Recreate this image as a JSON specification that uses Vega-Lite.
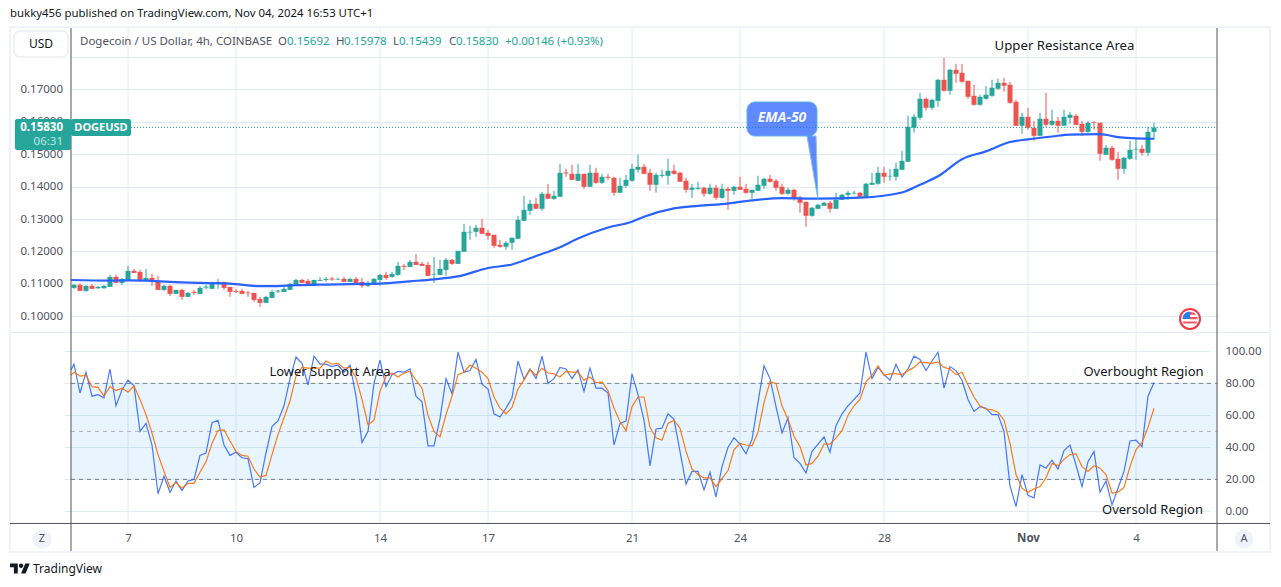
{"$schema":"https://vega.github.io/schema/vega-lite/v6.json","width":1281,"height":587,"autosize":{"type":"none"},"padding":0,"background":"#ffffff","config":{"view":{"stroke":null},"font":"Noto Sans","text":{"font":"Noto Sans"}},
"datasets":{
"bars":[
{"t":"2024-10-05T10:00Z","k":88.5,"d":85},
{"t":"2024-10-05T12:00Z","o":0.10877,"h":0.11,"l":0.10846,"c":0.10969,"k":92,"d":87},
{"t":"2024-10-05T16:00Z","o":0.10969,"h":0.1102,"l":0.10784,"c":0.10784,"k":74,"d":84.5},
{"t":"2024-10-05T20:00Z","o":0.10784,"h":0.1096,"l":0.10753,"c":0.10938,"k":87,"d":85},
{"t":"2024-10-06T00:00Z","o":0.10938,"h":0.11,"l":0.10846,"c":0.10846,"k":72,"d":78},
{"t":"2024-10-06T04:00Z","o":0.10866,"h":0.10938,"l":0.10846,"c":0.10907,"k":73,"d":77.5},
{"t":"2024-10-06T08:00Z","o":0.10864,"h":0.10969,"l":0.10852,"c":0.10938,"k":71,"d":72},
{"t":"2024-10-06T12:00Z","o":0.10907,"h":0.11278,"l":0.10907,"c":0.11216,"k":89,"d":78},
{"t":"2024-10-06T16:00Z","o":0.11216,"h":0.11278,"l":0.11031,"c":0.11031,"k":66,"d":75.5},
{"t":"2024-10-06T20:00Z","o":0.11031,"h":0.11185,"l":0.10969,"c":0.11154,"k":76,"d":77},
{"t":"2024-10-07T00:00Z","o":0.11123,"h":0.11556,"l":0.11093,"c":0.11401,"k":82,"d":74.5},
{"t":"2024-10-07T04:00Z","o":0.11401,"h":0.11463,"l":0.1134,"c":0.1134,"k":78.5,"d":78.5},
{"t":"2024-10-07T08:00Z","o":0.1137,"h":0.11432,"l":0.11062,"c":0.11123,"k":50,"d":70},
{"t":"2024-10-07T12:00Z","o":0.11093,"h":0.11463,"l":0.11093,"c":0.11185,"k":55,"d":60.5},
{"t":"2024-10-07T16:00Z","o":0.11185,"h":0.11309,"l":0.10938,"c":0.11062,"k":41.5,"d":49},
{"t":"2024-10-07T20:00Z","o":0.11093,"h":0.11247,"l":0.10815,"c":0.10815,"k":11,"d":35.5},
{"t":"2024-10-08T00:00Z","o":0.10815,"h":0.10969,"l":0.10784,"c":0.10938,"k":22,"d":25},
{"t":"2024-10-08T04:00Z","o":0.10938,"h":0.10969,"l":0.1063,"c":0.10691,"k":12,"d":15},
{"t":"2024-10-08T08:00Z","o":0.10691,"h":0.10815,"l":0.10691,"c":0.10815,"k":19,"d":18},
{"t":"2024-10-08T12:00Z","o":0.10815,"h":0.10846,"l":0.10506,"c":0.10599,"k":13,"d":14.5},
{"t":"2024-10-08T16:00Z","o":0.10599,"h":0.10753,"l":0.10599,"c":0.10722,"k":19,"d":17.5},
{"t":"2024-10-08T20:00Z","o":0.10753,"h":0.10815,"l":0.1066,"c":0.10722,"k":20,"d":17.5},
{"t":"2024-10-09T00:00Z","o":0.10691,"h":0.10938,"l":0.10691,"c":0.10877,"k":35,"d":24.5},
{"t":"2024-10-09T04:00Z","o":0.10886,"h":0.10969,"l":0.10846,"c":0.10917,"k":36.5,"d":31},
{"t":"2024-10-09T08:00Z","o":0.10846,"h":0.11062,"l":0.10846,"c":0.11031,"k":55.5,"d":42.5},
{"t":"2024-10-09T12:00Z","o":0.1102,"h":0.11154,"l":0.10846,"c":0.11062,"k":57,"d":50.5},
{"t":"2024-10-09T16:00Z","o":0.11062,"h":0.11062,"l":0.10815,"c":0.10877,"k":41.5,"d":51},
{"t":"2024-10-09T20:00Z","o":0.10907,"h":0.10907,"l":0.10599,"c":0.10753,"k":35,"d":44},
{"t":"2024-10-10T00:00Z","o":0.10784,"h":0.10846,"l":0.10722,"c":0.10753,"k":37,"d":37.5},
{"t":"2024-10-10T04:00Z","o":0.10784,"h":0.10846,"l":0.10691,"c":0.10691,"k":33.5,"d":35},
{"t":"2024-10-10T08:00Z","o":0.10733,"h":0.10784,"l":0.10599,"c":0.10712,"k":33,"d":34.5},
{"t":"2024-10-10T12:00Z","o":0.10722,"h":0.10722,"l":0.10444,"c":0.10506,"k":15,"d":26.5},
{"t":"2024-10-10T16:00Z","o":0.10537,"h":0.10599,"l":0.1029,"c":0.10414,"k":18,"d":21.5},
{"t":"2024-10-10T20:00Z","o":0.10414,"h":0.1063,"l":0.10414,"c":0.10599,"k":36.5,"d":22.5},
{"t":"2024-10-11T00:00Z","o":0.10568,"h":0.10815,"l":0.10568,"c":0.10753,"k":53,"d":35.5},
{"t":"2024-10-11T04:00Z","o":0.10763,"h":0.10815,"l":0.10722,"c":0.10794,"k":56.5,"d":48},
{"t":"2024-10-11T08:00Z","o":0.10753,"h":0.10907,"l":0.10753,"c":0.10846,"k":66,"d":58.5},
{"t":"2024-10-11T12:00Z","o":0.10815,"h":0.11031,"l":0.10815,"c":0.11,"k":83,"d":69},
{"t":"2024-10-11T16:00Z","o":0.10969,"h":0.11154,"l":0.10969,"c":0.11123,"k":96.5,"d":84.5},
{"t":"2024-10-11T20:00Z","o":0.11123,"h":0.11154,"l":0.11031,"c":0.11031,"k":92.5,"d":90},
{"t":"2024-10-12T00:00Z","o":0.11093,"h":0.11154,"l":0.10938,"c":0.10938,"k":79,"d":89.5},
{"t":"2024-10-12T04:00Z","o":0.10938,"h":0.11123,"l":0.10938,"c":0.11123,"k":97,"d":89.5},
{"t":"2024-10-12T08:00Z","o":0.11093,"h":0.11216,"l":0.11093,"c":0.11123,"k":92,"d":89.5},
{"t":"2024-10-12T12:00Z","o":0.11123,"h":0.11216,"l":0.11062,"c":0.11154,"k":92,"d":94},
{"t":"2024-10-12T16:00Z","o":0.11165,"h":0.11216,"l":0.11093,"c":0.11134,"k":90.5,"d":92},
{"t":"2024-10-12T20:00Z","o":0.11134,"h":0.11185,"l":0.11123,"c":0.11154,"k":91.5,"d":92.5},
{"t":"2024-10-13T00:00Z","o":0.11154,"h":0.11216,"l":0.11062,"c":0.11062,"k":87,"d":89.5},
{"t":"2024-10-13T04:00Z","o":0.11062,"h":0.11185,"l":0.11062,"c":0.11154,"k":91.5,"d":90},
{"t":"2024-10-13T08:00Z","o":0.11154,"h":0.11216,"l":0.11031,"c":0.11031,"k":72,"d":83.5},
{"t":"2024-10-13T12:00Z","o":0.11062,"h":0.11185,"l":0.10877,"c":0.10938,"k":43,"d":70},
{"t":"2024-10-13T16:00Z","o":0.10938,"h":0.11093,"l":0.10907,"c":0.10969,"k":50,"d":54},
{"t":"2024-10-13T20:00Z","o":0.10969,"h":0.11185,"l":0.10969,"c":0.11154,"k":80,"d":57},
{"t":"2024-10-14T00:00Z","o":0.11123,"h":0.11309,"l":0.10938,"c":0.11278,"k":94.5,"d":75},
{"t":"2024-10-14T04:00Z","o":0.11278,"h":0.1137,"l":0.11123,"c":0.11185,"k":78,"d":84.5},
{"t":"2024-10-14T08:00Z","o":0.11216,"h":0.1137,"l":0.11185,"c":0.11309,"k":85.5,"d":86.5},
{"t":"2024-10-14T12:00Z","o":0.11278,"h":0.11679,"l":0.11247,"c":0.11556,"k":87.5,"d":84},
{"t":"2024-10-14T16:00Z","o":0.11556,"h":0.11617,"l":0.11432,"c":0.11525,"k":87,"d":86.5},
{"t":"2024-10-14T20:00Z","o":0.11525,"h":0.11741,"l":0.11525,"c":0.11679,"k":89,"d":87.5},
{"t":"2024-10-15T00:00Z","o":0.11679,"h":0.11926,"l":0.11586,"c":0.11586,"k":72,"d":82},
{"t":"2024-10-15T04:00Z","o":0.11617,"h":0.11679,"l":0.11556,"c":0.11556,"k":68.5,"d":77},
{"t":"2024-10-15T08:00Z","o":0.11586,"h":0.11679,"l":0.11247,"c":0.11247,"k":41,"d":60},
{"t":"2024-10-15T12:00Z","o":0.11288,"h":0.11833,"l":0.11031,"c":0.11309,"k":41,"d":50},
{"t":"2024-10-15T16:00Z","o":0.11278,"h":0.11741,"l":0.11278,"c":0.11463,"k":58,"d":46.5},
{"t":"2024-10-15T20:00Z","o":0.11432,"h":0.11802,"l":0.11247,"c":0.11741,"k":83,"d":60.5},
{"t":"2024-10-16T00:00Z","o":0.11741,"h":0.11772,"l":0.11586,"c":0.11617,"k":73.5,"d":72},
{"t":"2024-10-16T04:00Z","o":0.11617,"h":0.12019,"l":0.11617,"c":0.12019,"k":99.5,"d":85.5},
{"t":"2024-10-16T08:00Z","o":0.11991,"h":0.12855,"l":0.11991,"c":0.12608,"k":87,"d":87},
{"t":"2024-10-16T12:00Z","o":0.12587,"h":0.12793,"l":0.12361,"c":0.12608,"k":88,"d":91.5},
{"t":"2024-10-16T16:00Z","o":0.12608,"h":0.12824,"l":0.12454,"c":0.12731,"k":95,"d":89.5},
{"t":"2024-10-16T20:00Z","o":0.12731,"h":0.13009,"l":0.12546,"c":0.12546,"k":79.5,"d":87},
{"t":"2024-10-17T00:00Z","o":0.12577,"h":0.1267,"l":0.12361,"c":0.12485,"k":76.5,"d":83},
{"t":"2024-10-17T04:00Z","o":0.12515,"h":0.12515,"l":0.12114,"c":0.12176,"k":61,"d":71.5},
{"t":"2024-10-17T08:00Z","o":0.12207,"h":0.12361,"l":0.12114,"c":0.12145,"k":59,"d":64.5},
{"t":"2024-10-17T12:00Z","o":0.12145,"h":0.1233,"l":0.12052,"c":0.12268,"k":64.5,"d":61},
{"t":"2024-10-17T16:00Z","o":0.12268,"h":0.12423,"l":0.12052,"c":0.12423,"k":71,"d":65},
{"t":"2024-10-17T20:00Z","o":0.12392,"h":0.13102,"l":0.12392,"c":0.12978,"k":94,"d":76.5},
{"t":"2024-10-18T00:00Z","o":0.12947,"h":0.13719,"l":0.12947,"c":0.13287,"k":82.5,"d":82},
{"t":"2024-10-18T04:00Z","o":0.13256,"h":0.13596,"l":0.13133,"c":0.13472,"k":89,"d":88.5},
{"t":"2024-10-18T08:00Z","o":0.13472,"h":0.13657,"l":0.13318,"c":0.13318,"k":83,"d":85},
{"t":"2024-10-18T12:00Z","o":0.13318,"h":0.13843,"l":0.13256,"c":0.13781,"k":97,"d":89.5},
{"t":"2024-10-18T16:00Z","o":0.13781,"h":0.14089,"l":0.13626,"c":0.13626,"k":80,"d":86.5},
{"t":"2024-10-18T20:00Z","o":0.13626,"h":0.13873,"l":0.13596,"c":0.13719,"k":83,"d":86},
{"t":"2024-10-19T00:00Z","o":0.13688,"h":0.14707,"l":0.13688,"c":0.14429,"k":90,"d":84},
{"t":"2024-10-19T04:00Z","o":0.14439,"h":0.14552,"l":0.14305,"c":0.14408,"k":89,"d":87.5},
{"t":"2024-10-19T08:00Z","o":0.14398,"h":0.14676,"l":0.14213,"c":0.14213,"k":83,"d":87},
{"t":"2024-10-19T12:00Z","o":0.14182,"h":0.14707,"l":0.14182,"c":0.14398,"k":88.5,"d":87},
{"t":"2024-10-19T16:00Z","o":0.14398,"h":0.14398,"l":0.13935,"c":0.13997,"k":75,"d":82},
{"t":"2024-10-19T20:00Z","o":0.13997,"h":0.14676,"l":0.13997,"c":0.14429,"k":89.5,"d":84},
{"t":"2024-10-20T00:00Z","o":0.14429,"h":0.14583,"l":0.14089,"c":0.1412,"k":77,"d":80.5},
{"t":"2024-10-20T04:00Z","o":0.1412,"h":0.14398,"l":0.14089,"c":0.14305,"k":77,"d":81},
{"t":"2024-10-20T08:00Z","o":0.14305,"h":0.14398,"l":0.14213,"c":0.14275,"k":74,"d":75.5},
{"t":"2024-10-20T12:00Z","o":0.14275,"h":0.14305,"l":0.13719,"c":0.13812,"k":41.5,"d":64.5},
{"t":"2024-10-20T16:00Z","o":0.13812,"h":0.14275,"l":0.13812,"c":0.14028,"k":55,"d":56},
{"t":"2024-10-20T20:00Z","o":0.14028,"h":0.14367,"l":0.13966,"c":0.14213,"k":56.5,"d":50.5},
{"t":"2024-10-21T00:00Z","o":0.14182,"h":0.14707,"l":0.14151,"c":0.14552,"k":86,"d":65.5},
{"t":"2024-10-21T04:00Z","o":0.14522,"h":0.14985,"l":0.14429,"c":0.14614,"k":73,"d":71.5},
{"t":"2024-10-21T08:00Z","o":0.14614,"h":0.14707,"l":0.14398,"c":0.14398,"k":57,"d":71.5},
{"t":"2024-10-21T12:00Z","o":0.14429,"h":0.14552,"l":0.13873,"c":0.14059,"k":28.5,"d":52.5},
{"t":"2024-10-21T16:00Z","o":0.14059,"h":0.14429,"l":0.13812,"c":0.14367,"k":51.5,"d":46},
{"t":"2024-10-21T20:00Z","o":0.14336,"h":0.14522,"l":0.14275,"c":0.14367,"k":52,"d":44.5},
{"t":"2024-10-22T00:00Z","o":0.14336,"h":0.14861,"l":0.14059,"c":0.14491,"k":61,"d":55},
{"t":"2024-10-22T04:00Z","o":0.14491,"h":0.14676,"l":0.14367,"c":0.14398,"k":57.5,"d":57},
{"t":"2024-10-22T08:00Z","o":0.14429,"h":0.1446,"l":0.14151,"c":0.14151,"k":37.5,"d":52},
{"t":"2024-10-22T12:00Z","o":0.14182,"h":0.14275,"l":0.13812,"c":0.13904,"k":17,"d":37.5},
{"t":"2024-10-22T16:00Z","o":0.13904,"h":0.14089,"l":0.13657,"c":0.13966,"k":25,"d":26.5},
{"t":"2024-10-22T20:00Z","o":0.13935,"h":0.14151,"l":0.13904,"c":0.13966,"k":25,"d":23},
{"t":"2024-10-23T00:00Z","o":0.13966,"h":0.13997,"l":0.13688,"c":0.13781,"k":13.5,"d":21},
{"t":"2024-10-23T04:00Z","o":0.13781,"h":0.14089,"l":0.1375,"c":0.13966,"k":24.5,"d":21},
{"t":"2024-10-23T08:00Z","o":0.13966,"h":0.14059,"l":0.13596,"c":0.13657,"k":9,"d":15.5},
{"t":"2024-10-23T12:00Z","o":0.13657,"h":0.14089,"l":0.13626,"c":0.13935,"k":28,"d":20.5},
{"t":"2024-10-23T16:00Z","o":0.13935,"h":0.13997,"l":0.13287,"c":0.13873,"k":40,"d":25.5},
{"t":"2024-10-23T20:00Z","o":0.13873,"h":0.14028,"l":0.1375,"c":0.13997,"k":46,"d":38.5},
{"t":"2024-10-24T00:00Z","o":0.13997,"h":0.14305,"l":0.13904,"c":0.13904,"k":42,"d":42.5},
{"t":"2024-10-24T04:00Z","o":0.13935,"h":0.14089,"l":0.13781,"c":0.13812,"k":36,"d":41.5},
{"t":"2024-10-24T08:00Z","o":0.13812,"h":0.13904,"l":0.13626,"c":0.13904,"k":45,"d":41},
{"t":"2024-10-24T12:00Z","o":0.13873,"h":0.14336,"l":0.13873,"c":0.14059,"k":68,"d":49.5},
{"t":"2024-10-24T16:00Z","o":0.14028,"h":0.14275,"l":0.13935,"c":0.14244,"k":91,"d":68},
{"t":"2024-10-24T20:00Z","o":0.14244,"h":0.14367,"l":0.1412,"c":0.14151,"k":83,"d":81},
{"t":"2024-10-25T00:00Z","o":0.14182,"h":0.14244,"l":0.13873,"c":0.13966,"k":65.5,"d":80},
{"t":"2024-10-25T04:00Z","o":0.13997,"h":0.14089,"l":0.1375,"c":0.13781,"k":49,"d":66},
{"t":"2024-10-25T08:00Z","o":0.13781,"h":0.13966,"l":0.1375,"c":0.13904,"k":58.5,"d":57.5},
{"t":"2024-10-25T12:00Z","o":0.13904,"h":0.13935,"l":0.13565,"c":0.13626,"k":33.5,"d":47},
{"t":"2024-10-25T16:00Z","o":0.13657,"h":0.13719,"l":0.13195,"c":0.13503,"k":30,"d":40.5},
{"t":"2024-10-25T20:00Z","o":0.13534,"h":0.13534,"l":0.12762,"c":0.13102,"k":24,"d":29},
{"t":"2024-10-26T00:00Z","o":0.13102,"h":0.1338,"l":0.13071,"c":0.13349,"k":37.5,"d":30},
{"t":"2024-10-26T04:00Z","o":0.13318,"h":0.13472,"l":0.13318,"c":0.13441,"k":42,"d":34.5},
{"t":"2024-10-26T08:00Z","o":0.1341,"h":0.13534,"l":0.1341,"c":0.13503,"k":46.5,"d":42},
{"t":"2024-10-26T12:00Z","o":0.13503,"h":0.13565,"l":0.13195,"c":0.13318,"k":37,"d":42},
{"t":"2024-10-26T16:00Z","o":0.13318,"h":0.13812,"l":0.13318,"c":0.13596,"k":53.5,"d":46},
{"t":"2024-10-26T20:00Z","o":0.13596,"h":0.13781,"l":0.13596,"c":0.1375,"k":61,"d":50.5},
{"t":"2024-10-27T00:00Z","o":0.1375,"h":0.13873,"l":0.13596,"c":0.13812,"k":66,"d":60},
{"t":"2024-10-27T04:00Z","o":0.13791,"h":0.13873,"l":0.1375,"c":0.13812,"k":70,"d":66},
{"t":"2024-10-27T08:00Z","o":0.13812,"h":0.13843,"l":0.13688,"c":0.13688,"k":74,"d":70},
{"t":"2024-10-27T12:00Z","o":0.13688,"h":0.1412,"l":0.13688,"c":0.1409,"k":99.5,"d":81},
{"t":"2024-10-27T16:00Z","o":0.14059,"h":0.14429,"l":0.14059,"c":0.1412,"k":83,"d":85},
{"t":"2024-10-27T20:00Z","o":0.1409,"h":0.14614,"l":0.14059,"c":0.14429,"k":90,"d":91},
{"t":"2024-10-28T00:00Z","o":0.14429,"h":0.14614,"l":0.1412,"c":0.14306,"k":85.5,"d":85},
{"t":"2024-10-28T04:00Z","o":0.14316,"h":0.14552,"l":0.14182,"c":0.14336,"k":82,"d":86},
{"t":"2024-10-28T08:00Z","o":0.14306,"h":0.14738,"l":0.14182,"c":0.14552,"k":92,"d":86},
{"t":"2024-10-28T12:00Z","o":0.14522,"h":0.15108,"l":0.14522,"c":0.14799,"k":84,"d":85.5},
{"t":"2024-10-28T16:00Z","o":0.14769,"h":0.16188,"l":0.14769,"c":0.15849,"k":89,"d":88},
{"t":"2024-10-28T20:00Z","o":0.15818,"h":0.1625,"l":0.15664,"c":0.16157,"k":97,"d":90},
{"t":"2024-10-29T00:00Z","o":0.16127,"h":0.16898,"l":0.16065,"c":0.16713,"k":95,"d":93.5},
{"t":"2024-10-29T04:00Z","o":0.16713,"h":0.16744,"l":0.16343,"c":0.16435,"k":88,"d":93},
{"t":"2024-10-29T08:00Z","o":0.16435,"h":0.16713,"l":0.16373,"c":0.16682,"k":94,"d":92.5},
{"t":"2024-10-29T12:00Z","o":0.16651,"h":0.1733,"l":0.16466,"c":0.17299,"k":99.5,"d":93.5},
{"t":"2024-10-29T16:00Z","o":0.17299,"h":0.17978,"l":0.16929,"c":0.1696,"k":77,"d":90},
{"t":"2024-10-29T20:00Z","o":0.1696,"h":0.17639,"l":0.16837,"c":0.17608,"k":90.5,"d":89},
{"t":"2024-10-30T00:00Z","o":0.17608,"h":0.17793,"l":0.17207,"c":0.17485,"k":88,"d":85.5},
{"t":"2024-10-30T04:00Z","o":0.17516,"h":0.17793,"l":0.17207,"c":0.17238,"k":82,"d":87},
{"t":"2024-10-30T08:00Z","o":0.17269,"h":0.17269,"l":0.16713,"c":0.16775,"k":70,"d":79},
{"t":"2024-10-30T12:00Z","o":0.16806,"h":0.17145,"l":0.16497,"c":0.16528,"k":62.5,"d":71.5},
{"t":"2024-10-30T16:00Z","o":0.16528,"h":0.16837,"l":0.16497,"c":0.16775,"k":65.5,"d":66},
{"t":"2024-10-30T20:00Z","o":0.16713,"h":0.17114,"l":0.16682,"c":0.16837,"k":64.5,"d":64},
{"t":"2024-10-31T00:00Z","o":0.16806,"h":0.17299,"l":0.16775,"c":0.17053,"k":60.5,"d":63.5},
{"t":"2024-10-31T04:00Z","o":0.17022,"h":0.1733,"l":0.16991,"c":0.17207,"k":60.5,"d":62},
{"t":"2024-10-31T08:00Z","o":0.17207,"h":0.17361,"l":0.16929,"c":0.17114,"k":50,"d":57},
{"t":"2024-10-31T12:00Z","o":0.17145,"h":0.17238,"l":0.16559,"c":0.1659,"k":16,"d":42.5},
{"t":"2024-10-31T16:00Z","o":0.1662,"h":0.16682,"l":0.1588,"c":0.1588,"k":3,"d":23},
{"t":"2024-10-31T20:00Z","o":0.1588,"h":0.16281,"l":0.15633,"c":0.16157,"k":23,"d":14.5},
{"t":"2024-11-01T00:00Z","o":0.16157,"h":0.16435,"l":0.15756,"c":0.15818,"k":10,"d":12},
{"t":"2024-11-01T04:00Z","o":0.15818,"h":0.16034,"l":0.15417,"c":0.15571,"k":8.5,"d":14},
{"t":"2024-11-01T08:00Z","o":0.15571,"h":0.16281,"l":0.15571,"c":0.16096,"k":29,"d":15.5},
{"t":"2024-11-01T12:00Z","o":0.16096,"h":0.16898,"l":0.15849,"c":0.15911,"k":27,"d":21},
{"t":"2024-11-01T16:00Z","o":0.15911,"h":0.16373,"l":0.1588,"c":0.16034,"k":32,"d":30},
{"t":"2024-11-01T20:00Z","o":0.16034,"h":0.16157,"l":0.15664,"c":0.1588,"k":26.5,"d":28.5},
{"t":"2024-11-02T00:00Z","o":0.1588,"h":0.16373,"l":0.1588,"c":0.16157,"k":38,"d":32.5},
{"t":"2024-11-02T04:00Z","o":0.16127,"h":0.16312,"l":0.15941,"c":0.16219,"k":41.5,"d":35.5},
{"t":"2024-11-02T08:00Z","o":0.16188,"h":0.1625,"l":0.15911,"c":0.15911,"k":29,"d":36},
{"t":"2024-11-02T12:00Z","o":0.15941,"h":0.16034,"l":0.15571,"c":0.15694,"k":15.5,"d":28},
{"t":"2024-11-02T16:00Z","o":0.15694,"h":0.16034,"l":0.15664,"c":0.15972,"k":31,"d":25},
{"t":"2024-11-02T20:00Z","o":0.15993,"h":0.16034,"l":0.15756,"c":0.15972,"k":37.5,"d":28.5},
{"t":"2024-11-03T00:00Z","o":0.15972,"h":0.15972,"l":0.14799,"c":0.15015,"k":12,"d":27},
{"t":"2024-11-03T04:00Z","o":0.14985,"h":0.15293,"l":0.14985,"c":0.15201,"k":19,"d":23},
{"t":"2024-11-03T08:00Z","o":0.15201,"h":0.15262,"l":0.14799,"c":0.1483,"k":4,"d":11.5},
{"t":"2024-11-03T12:00Z","o":0.14861,"h":0.15077,"l":0.14213,"c":0.14552,"k":14.5,"d":12},
{"t":"2024-11-03T16:00Z","o":0.14552,"h":0.14923,"l":0.14398,"c":0.14892,"k":25,"d":15},
{"t":"2024-11-03T20:00Z","o":0.14861,"h":0.15417,"l":0.1483,"c":0.15139,"k":44,"d":28},
{"t":"2024-11-04T00:00Z","o":0.15149,"h":0.15478,"l":0.1483,"c":0.1517,"k":44.5,"d":38.5},
{"t":"2024-11-04T04:00Z","o":0.1517,"h":0.15293,"l":0.14954,"c":0.15046,"k":40.5,"d":43},
{"t":"2024-11-04T08:00Z","o":0.15046,"h":0.15849,"l":0.14954,"c":0.15694,"k":72,"d":52.5},
{"t":"2024-11-04T12:00Z","o":0.15692,"h":0.15978,"l":0.15439,"c":0.1583,"k":80.5,"d":64.5}
],
"ema":[
{"t":"2024-10-05T10:00Z","v":0.1112},{"t":"2024-10-06T12:00Z","v":0.1110},{"t":"2024-10-07T00:00Z","v":0.1111},{"t":"2024-10-07T12:00Z","v":0.1110},{"t":"2024-10-08T04:00Z","v":0.1106},{"t":"2024-10-09T00:00Z","v":0.1103},{"t":"2024-10-09T20:00Z","v":0.1101},{"t":"2024-10-10T16:00Z","v":0.1093},{"t":"2024-10-11T00:00Z","v":0.1093},{"t":"2024-10-11T16:00Z","v":0.1096},{"t":"2024-10-12T12:00Z","v":0.1098},{"t":"2024-10-13T12:00Z","v":0.1100},{"t":"2024-10-14T00:00Z","v":0.1101},{"t":"2024-10-14T20:00Z","v":0.1108},{"t":"2024-10-15T12:00Z","v":0.1114},{"t":"2024-10-16T04:00Z","v":0.1123},{"t":"2024-10-17T00:00Z","v":0.1149},{"t":"2024-10-17T16:00Z","v":0.1160},{"t":"2024-10-18T08:00Z","v":0.1186},{"t":"2024-10-19T00:00Z","v":0.1213},{"t":"2024-10-19T12:00Z","v":0.1240},{"t":"2024-10-20T08:00Z","v":0.1274},{"t":"2024-10-21T00:00Z","v":0.1292},{"t":"2024-10-21T08:00Z","v":0.1307},{"t":"2024-10-22T04:00Z","v":0.1333},{"t":"2024-10-22T20:00Z","v":0.1341},{"t":"2024-10-23T16:00Z","v":0.1348},{"t":"2024-10-24T08:00Z","v":0.1358},{"t":"2024-10-25T04:00Z","v":0.1365},{"t":"2024-10-26T04:00Z","v":0.1363},{"t":"2024-10-27T08:00Z","v":0.1366},{"t":"2024-10-28T12:00Z","v":0.1382},{"t":"2024-10-29T00:00Z","v":0.1406},{"t":"2024-10-29T12:00Z","v":0.1432},{"t":"2024-10-30T04:00Z","v":0.1485},{"t":"2024-10-30T20:00Z","v":0.1509},{"t":"2024-10-31T12:00Z","v":0.1538},{"t":"2024-11-01T00:00Z","v":0.1546},{"t":"2024-11-01T16:00Z","v":0.1555},{"t":"2024-11-02T04:00Z","v":0.1561},{"t":"2024-11-03T00:00Z","v":0.1562},{"t":"2024-11-03T12:00Z","v":0.1553},{"t":"2024-11-04T00:00Z","v":0.1549},{"t":"2024-11-04T12:00Z","v":0.1548}
],
"ticks":[{"t":"2024-10-07T00:00Z"},{"t":"2024-10-10T00:00Z"},{"t":"2024-10-14T00:00Z"},{"t":"2024-10-17T00:00Z"},{"t":"2024-10-21T00:00Z"},{"t":"2024-10-24T00:00Z"},{"t":"2024-10-28T00:00Z"},{"t":"2024-11-01T00:00Z"},{"t":"2024-11-04T00:00Z"}],
"header":[
{"text":"Dogecoin / US Dollar, 4h, COINBASE","kind":"label","t":"2024-10-05T16:00Z","p":0.18466},
{"text":"O","kind":"label","t":"2024-10-11T04:00Z","p":0.18466},{"text":"0.15692","kind":"value","t":"2024-10-11T10:00Z","p":0.18466},
{"text":"H","kind":"label","t":"2024-10-12T18:40Z","p":0.18466},{"text":"0.15978","kind":"value","t":"2024-10-13T00:00Z","p":0.18466},
{"text":"L","kind":"label","t":"2024-10-14T08:40Z","p":0.18466},{"text":"0.15439","kind":"value","t":"2024-10-14T12:40Z","p":0.18466},
{"text":"C","kind":"label","t":"2024-10-15T22:00Z","p":0.18466},{"text":"0.15830","kind":"value","t":"2024-10-16T02:40Z","p":0.18466},
{"text":"+0.00146 (+0.93%)","kind":"value","t":"2024-10-17T11:20Z","p":0.18466}
]
},
"encoding":{"x":{"field":"t","type":"temporal","title":null,"scale":{"type":"utc","padding":0,"domain":[{"year":2024,"month":"oct","date":5,"hours":10,"utc":true},{"year":2024,"month":"nov","date":6,"hours":6,"utc":true}],"range":[71,1217]},"axis":{"orient":"bottom","offset":-64,"title":null,"domain":false,"ticks":false,"grid":false,"labelPadding":9,"labelFontSize":11.5,"labelColor":"#50535e","labelFont":"Noto Sans","labelFlush":false,"labelOverlap":false,"labelFontWeight":{"condition":{"test":"utcdate(datum.value)==1","value":700},"value":400},"labelExpr":"utcdate(datum.value)==1?'Nov':''+utcdate(datum.value)","values":[{"year":2024,"month":"oct","date":7,"utc":true},{"year":2024,"month":"oct","date":10,"utc":true},{"year":2024,"month":"oct","date":14,"utc":true},{"year":2024,"month":"oct","date":17,"utc":true},{"year":2024,"month":"oct","date":21,"utc":true},{"year":2024,"month":"oct","date":24,"utc":true},{"year":2024,"month":"oct","date":28,"utc":true},{"year":2024,"month":"nov","date":1,"utc":true},{"year":2024,"month":"nov","date":4,"utc":true}]}}},
"resolve":{"scale":{"y":"independent"},"axis":{"y":"independent"}},
"layer":[
{"layer":[
{"data":{"name":"ticks"},"mark":{"type":"rule","color":"#e1ecf2","strokeWidth":1},"encoding":{"y":{"datum":302.25,"type":"quantitative","title":null,"scale":{"domain":[-7.25,111.5],"range":[523,333],"nice":false,"zero":false},"axis":{"orient":"right","offset":-64,"title":null,"domain":false,"ticks":false,"grid":true,"gridColor":"#e1ecf2","values":[0,20,40,60,80,100],"format":".2f","labelPadding":8,"labelFontSize":11.5,"labelColor":"#50535e","labelFont":"Noto Sans"}},"y2":{"datum":-7.25}}},
{"data":{"values":[{"t":"2024-10-05T10:00Z","t2":"2024-11-06T06:00Z","a":80,"b":20}]},"mark":{"type":"rect","fill":"#2196f3","opacity":0.1},"encoding":{"x2":{"field":"t2"},"y":{"field":"a","type":"quantitative"},"y2":{"field":"b"}}},
{"data":{"values":[{"t":"2024-10-05T10:00Z","t2":"2024-11-06T06:00Z","a":80},{"t":"2024-10-05T10:00Z","t2":"2024-11-06T06:00Z","a":20}]},"mark":{"type":"rule","color":"#787b86","strokeWidth":1,"strokeDash":[4,4]},"encoding":{"x2":{"field":"t2"},"y":{"field":"a","type":"quantitative"}}},
{"data":{"values":[{"t":"2024-10-05T10:00Z","t2":"2024-11-06T06:00Z","a":50}]},"mark":{"type":"rule","color":"#b2b5be","strokeWidth":1,"strokeDash":[4,4]},"encoding":{"x2":{"field":"t2"},"y":{"field":"a","type":"quantitative"}}},
{"data":{"name":"bars"},"mark":{"type":"line","color":"#2962ff","strokeWidth":1.2,"opacity":0.85},"encoding":{"y":{"field":"k","type":"quantitative"}}},
{"data":{"name":"bars"},"mark":{"type":"line","color":"#ff6d00","strokeWidth":1.2,"opacity":0.9},"encoding":{"y":{"field":"d","type":"quantitative"}}},
{"data":{"values":[{"text":"Lower Support Area","t":"2024-10-12T14:40Z","v":87.25},{"text":"Overbought Region","t":"2024-11-04T05:00Z","v":87.25},{"text":"Oversold Region","t":"2024-11-04T11:00Z","v":1}]},"mark":{"type":"text","font":"Noto Sans","fontSize":13,"color":"#131722","align":"center","baseline":"middle"},"encoding":{"y":{"field":"v","type":"quantitative"},"text":{"field":"text"}}}
]},
{"layer":[
{"data":{"name":"bars"},"mark":{"type":"rule","strokeWidth":1},"encoding":{"y":{"field":"l","type":"quantitative","title":null,"scale":{"domain":[0.09515,0.18898],"range":[332,28],"nice":false,"zero":false},"axis":{"orient":"left","offset":-71,"title":null,"domain":false,"ticks":false,"grid":true,"gridColor":"#e1ecf2","values":[0.10,0.11,0.12,0.13,0.14,0.15,0.16,0.17,0.18],"labelExpr":"datum.value>0.175?'':format(datum.value,'.5f')","labelPadding":8.5,"labelFontSize":11.5,"labelColor":"#50535e","labelFont":"Noto Sans"}},"y2":{"field":"h"},"color":{"condition":{"test":"datum.c>=datum.o","value":"#26a69a"},"value":"#ef5350"}}},
{"data":{"name":"bars"},"mark":{"type":"bar","size":5},"encoding":{"y":{"field":"o","type":"quantitative"},"y2":{"field":"c"},"color":{"condition":{"test":"datum.c>=datum.o","value":"#26a69a"},"value":"#ef5350"}}},
{"data":{"name":"ema"},"mark":{"type":"line","color":"#2962ff","strokeWidth":2.2,"interpolate":"monotone"},"encoding":{"y":{"field":"v","type":"quantitative"}}},
{"data":{"values":[{"t":"2024-10-07T02:00Z","t2":"2024-11-06T06:00Z","p":0.1583}]},"mark":{"type":"rule","color":"#26a69a","strokeWidth":1,"strokeDash":[1,2]},"encoding":{"x2":{"field":"t2"},"y":{"field":"p","type":"quantitative"}}},
{"data":{"values":[{"t":"2024-10-03T17:20Z","t2":"2024-11-07T17:20Z","p":0.18929,"p2":0.02725}]},"mark":{"type":"rect","fill":null,"filled":false,"stroke":"#f0f3fa","strokeWidth":2},"encoding":{"x2":{"field":"t2"},"y":{"field":"p","type":"quantitative"},"y2":{"field":"p2"}}},
{"data":{"values":[{"t":"2024-10-03T17:20Z","t2":"2024-11-07T17:20Z","p":0.095}]},"mark":{"type":"rule","color":"#e6ecf2","strokeWidth":1},"encoding":{"x2":{"field":"t2"},"y":{"field":"p","type":"quantitative"}}},
{"data":{"values":[{"t":"2024-10-03T17:20Z","t2":"2024-11-07T17:20Z","p":0.03605}]},"mark":{"type":"rule","color":"#50535e","strokeWidth":1},"encoding":{"x2":{"field":"t2"},"y":{"field":"p","type":"quantitative"}}},
{"data":{"values":[{"t":"2024-10-05T10:00Z","p":0.18898,"p2":0.02756},{"t":"2024-11-06T06:00Z","p":0.18898,"p2":0.02756}]},"mark":{"type":"rule","color":"#50535e","strokeWidth":1},"encoding":{"y":{"field":"p","type":"quantitative"},"y2":{"field":"p2"}}},
{"data":{"values":[{"t":"2024-10-03T20:00Z","t2":"2024-10-05T08:00Z","p":0.18806,"p2":0.18003}]},"mark":{"type":"rect","fill":"#ffffff","stroke":"#e0e3eb","strokeWidth":1,"cornerRadius":6},"encoding":{"x2":{"field":"t2"},"y":{"field":"p","type":"quantitative"},"y2":{"field":"p2"}}},
{"data":{"values":[{"t":"2024-10-03T20:40Z","t2":"2024-10-05T10:00Z","p":0.1609,"p2":0.15133},{"t":"2024-10-05T10:00Z","t2":"2024-10-07T02:00Z","p":0.1609,"p2":0.15565}]},"mark":{"type":"rect","fill":"#26a69a","cornerRadius":2},"encoding":{"x2":{"field":"t2"},"y":{"field":"p","type":"quantitative"},"y2":{"field":"p2"}}},
{"data":{"values":[{"t":"2024-10-25T20:40Z","t2":"2024-10-26T02:40Z","p":0.15565},{"t":"2024-10-26T04:00Z","t2":"2024-10-26T04:00Z","p":0.1359}]},"mark":{"type":"area","orient":"horizontal","fill":"#2962ff","opacity":0.75,"stroke":"#5aa9e6","strokeWidth":1},"encoding":{"x2":{"field":"t2"},"y":{"field":"p","type":"quantitative"}}},
{"data":{"values":[{"t":"2024-10-24T04:40Z","t2":"2024-10-26T03:20Z","p":0.16614,"p2":0.15565}]},"mark":{"type":"rect","fill":"#2962ff","opacity":0.75,"stroke":"#2f9fd8","strokeWidth":1,"cornerRadius":8},"encoding":{"x2":{"field":"t2"},"y":{"field":"p","type":"quantitative"},"y2":{"field":"p2"}}},
{"data":{"values":[{"text":"EMA-50","t":"2024-10-25T04:00Z","p":0.1612}]},"mark":{"type":"text","font":"Noto Sans","fontSize":14,"fontStyle":"italic","fontWeight":"bold","color":"#f4f7ff","align":"center","baseline":"middle"},"encoding":{"y":{"field":"p","type":"quantitative"},"text":{"field":"text"}}},
{"data":{"values":[{"t":"2024-11-05T12:00Z","p":0.09917}]},"mark":{"type":"point","shape":"circle","filled":false,"size":400,"stroke":"#f23645","strokeWidth":2,"fill":"#ffffff","opacity":1},"encoding":{"y":{"field":"p","type":"quantitative"}}},
{"data":{"values":[{"t":"2024-11-05T12:00Z","p":0.09917}]},"mark":{"type":"point","shape":"M-0.76 0A0.76 0.76 0 0 1 0 -0.76L0 0Z","filled":true,"size":400,"color":"#2e7bf0","opacity":1,"strokeWidth":0},"encoding":{"y":{"field":"p","type":"quantitative"}}},
{"data":{"values":[{"t":"2024-11-05T12:00Z","p":0.09917}]},"mark":{"type":"point","shape":"M0 -0.72L0.42 -0.62L0.62 -0.42L0 -0.42ZM0 -0.2L0.74 -0.2L0.76 0.02L0 0.02ZM-0.72 0.24L0.72 0.24L0.62 0.46L-0.62 0.46Z","filled":true,"size":400,"color":"#f7525f","opacity":1,"strokeWidth":0},"encoding":{"y":{"field":"p","type":"quantitative"}}},
{"data":{"values":[{"t":"2024-10-04T14:40Z","p":0.03127},{"t":"2024-11-07T00:00Z","p":0.03127}]},"mark":{"type":"point","shape":"circle","filled":true,"size":361,"color":"#f0f3fa","opacity":1},"encoding":{"y":{"field":"p","type":"quantitative"}}},
{"data":{"values":[{"text":"Z","t":"2024-10-04T14:40Z","p":0.03127},{"text":"A","t":"2024-11-07T00:00Z","p":0.03127}]},"mark":{"type":"text","font":"Noto Sans","fontSize":11,"color":"#50535e","align":"center","baseline":"middle"},"encoding":{"y":{"field":"p","type":"quantitative"},"text":{"field":"text"}}},
{"data":{"values":[{"t":"2024-10-04T00:00Z","p":0.02216}]},"mark":{"type":"point","shape":"M-0.222 0.5L-0.611 0.5L-0.611 -0.111L-1 -0.111L-1 -0.5L-0.222 -0.5ZM0.556 0.5L0.111 0.5L0.528 -0.5L0.972 -0.5ZM-0.111 -0.278a0.222 0.222 0 1 0 0.444 0a0.222 0.222 0 1 0 -0.444 0Z","filled":true,"size":400,"color":"#131722","opacity":1,"strokeWidth":0},"encoding":{"y":{"field":"p","type":"quantitative"}}},
{"data":{"values":[{"text":"TradingView","t":"2024-10-04T08:40Z","p":0.02201}]},"mark":{"type":"text","font":"Noto Sans","fontSize":12,"color":"#131722","align":"left","baseline":"middle"},"encoding":{"y":{"field":"p","type":"quantitative"},"text":{"field":"text"}}},
{"data":{"values":[{"text":"bukky456 published on TradingView.com, Nov 04, 2024 16:53 UTC+1","t":"2024-10-03T17:20Z","p":0.1933}]},"mark":{"type":"text","font":"Noto Sans","fontSize":11.4,"color":"#131722","align":"left","baseline":"middle"},"encoding":{"y":{"field":"p","type":"quantitative"},"text":{"field":"text"}}},
{"data":{"values":[{"text":"USD","t":"2024-10-04T14:00Z","p":0.18404}]},"mark":{"type":"text","font":"Noto Sans","fontSize":12,"color":"#131722","align":"center","baseline":"middle"},"encoding":{"y":{"field":"p","type":"quantitative"},"text":{"field":"text"}}},
{"data":{"name":"header"},"mark":{"type":"text","font":"Noto Sans","fontSize":11.5,"align":"left","baseline":"middle"},"encoding":{"y":{"field":"p","type":"quantitative"},"text":{"field":"text"},"color":{"field":"kind","type":"nominal","legend":null,"scale":{"domain":["label","value"],"range":["#50535e","#26a69a"]}}}},
{"data":{"values":[{"text":"0.15830","t":"2024-10-05T04:40Z","p":0.15812}]},"mark":{"type":"text","font":"Noto Sans","fontSize":11.5,"fontWeight":"bold","color":"#ffffff","align":"right","baseline":"middle"},"encoding":{"y":{"field":"p","type":"quantitative"},"text":{"field":"text"}}},
{"data":{"values":[{"text":"06:31","t":"2024-10-05T04:40Z","p":0.1538}]},"mark":{"type":"text","font":"Noto Sans","fontSize":11.5,"color":"#bfe6e2","align":"right","baseline":"middle"},"encoding":{"y":{"field":"p","type":"quantitative"},"text":{"field":"text"}}},
{"data":{"values":[{"text":"DOGEUSD","t":"2024-10-06T06:00Z","p":0.15812}]},"mark":{"type":"text","font":"Noto Sans","fontSize":11,"fontWeight":"bold","color":"#ffffff","align":"center","baseline":"middle"},"encoding":{"y":{"field":"p","type":"quantitative"},"text":{"field":"text"}}},
{"data":{"values":[{"text":"Upper Resistance Area","t":"2024-11-02T00:20Z","p":0.18343}]},"mark":{"type":"text","font":"Noto Sans","fontSize":13.2,"color":"#131722","align":"center","baseline":"middle"},"encoding":{"y":{"field":"p","type":"quantitative"},"text":{"field":"text"}}}
]}
]}
